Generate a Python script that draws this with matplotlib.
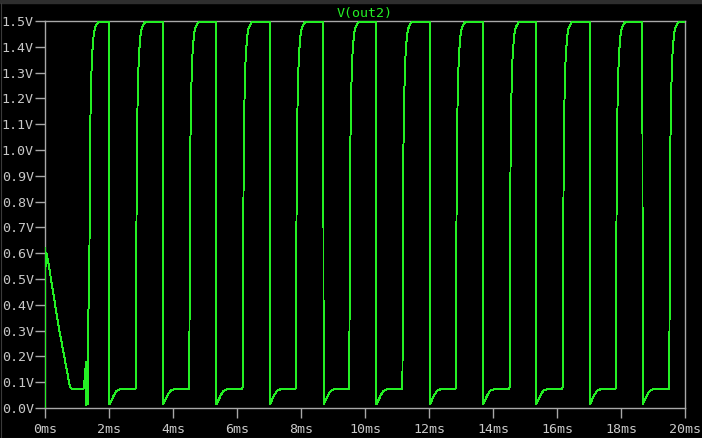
import matplotlib
matplotlib.use("Agg")
import matplotlib.pyplot as plt
from matplotlib.patches import Rectangle
from matplotlib.lines import Line2D
import numpy as np

# start-up transient (ms, V)
t_start = [0.0, 0.0, 0.02, 0.05, 0.10, 0.42, 0.68, 0.78, 0.85, 1.20, 1.23, 1.25, 1.26,
           1.275, 1.28, 1.33, 1.345]
v_start = [0.0, 0.62, 0.55, 0.60, 0.567, 0.32, 0.147, 0.083, 0.072, 0.072, 0.096, 0.15, 0.10,
           0.18, 0.012, 0.015, 0.32]

# edge times (ms)
rise_times = [1.375, 2.84, 4.51, 6.18, 7.84, 9.51, 11.17, 12.84, 14.52, 16.18, 17.84, 19.51]
fall_times = [2.01, 3.69, 5.35, 7.02, 8.70, 10.35, 12.02, 13.68, 15.34, 17.02, 18.67]

# shape of each edge, offsets from the edge time
rise_dt = [0.0, 0.01, 0.03, 0.056, 0.088, 0.12, 0.15, 0.18, 0.225, 0.29, 0.33]
rise_v = [0.08, 0.5, 1.0, 1.21, 1.35, 1.41, 1.45, 1.47, 1.484, 1.496, 1.498]
fall_dt = [0.0, 0.005, 0.073, 0.145, 0.23, 0.33]
fall_v = [1.498, 0.014, 0.031, 0.05, 0.067, 0.072]
low_end = 0.072
t_end, v_end = 20.0, 1.498

t = list(t_start)
v = list(v_start)
for i, tr in enumerate(rise_times):
    if i > 0:
        t.append(tr - 0.03)
        v.append(low_end)
        t += [tr + d for d in rise_dt]
        v += rise_v
    else:
        # first rise continues from the glitch at 0.32 V
        t += [tr + d for d in rise_dt[1:]]
        v += rise_v[1:]
    if i < len(fall_times):
        t += [fall_times[i] + d for d in fall_dt]
        v += fall_v
t.append(t_end)
v.append(v_end)

fg = '#a8a8a8'
green = '#24f024'
mono = 'DejaVu Sans Mono'

fig = plt.figure(figsize=(7.02, 4.38), dpi=100, facecolor='black')
ax = fig.add_axes([45 / 702, 30 / 438, 640 / 702, 387 / 438], facecolor='black')

ax.plot(t, v, color=green, lw=0.7, antialiased=False, zorder=3)

ax.set_xlim(0, 20)
ax.set_ylim(0, 1.5)
ax.set_xticks(np.arange(0, 21, 2))
ax.set_xticklabels([f'{x}ms' for x in range(0, 21, 2)])
ax.set_yticks(np.arange(0, 1.51, 0.1))
ax.set_yticklabels([f'{y:.1f}V' for y in np.arange(0, 1.51, 0.1)])

for s in ax.spines.values():
    s.set_color(fg)
    s.set_linewidth(1.0)
ax.tick_params(axis='both', colors=fg, direction='out', width=1.0)
ax.tick_params(axis='y', length=7.5, pad=0.5)
ax.tick_params(axis='x', length=7, pad=3.5)
for lab in ax.get_xticklabels() + ax.get_yticklabels():
    lab.set_fontfamily(mono)
    lab.set_fontsize(9.6)
    lab.set_color('#c8c8c8')

ax.set_title('V(out2)', color=green, fontfamily=mono, fontsize=9.6, pad=3)

# window chrome: thin top bar and faint left/bottom border
fig.patches.append(Rectangle((0, 1 - 3 / 438), 1, 3 / 438, transform=fig.transFigure,
                             color='#2e2e2e', zorder=0))
fig.lines.append(Line2D([0.5 / 702, 0.5 / 702], [0, 1 - 3 / 438], transform=fig.transFigure,
                        color='#3a3a3a', lw=0.8))
fig.lines.append(Line2D([0, 1], [0.5 / 438, 0.5 / 438], transform=fig.transFigure,
                        color='#3a3a3a', lw=0.8))

fig.savefig('out.png', dpi=100, facecolor='black')
